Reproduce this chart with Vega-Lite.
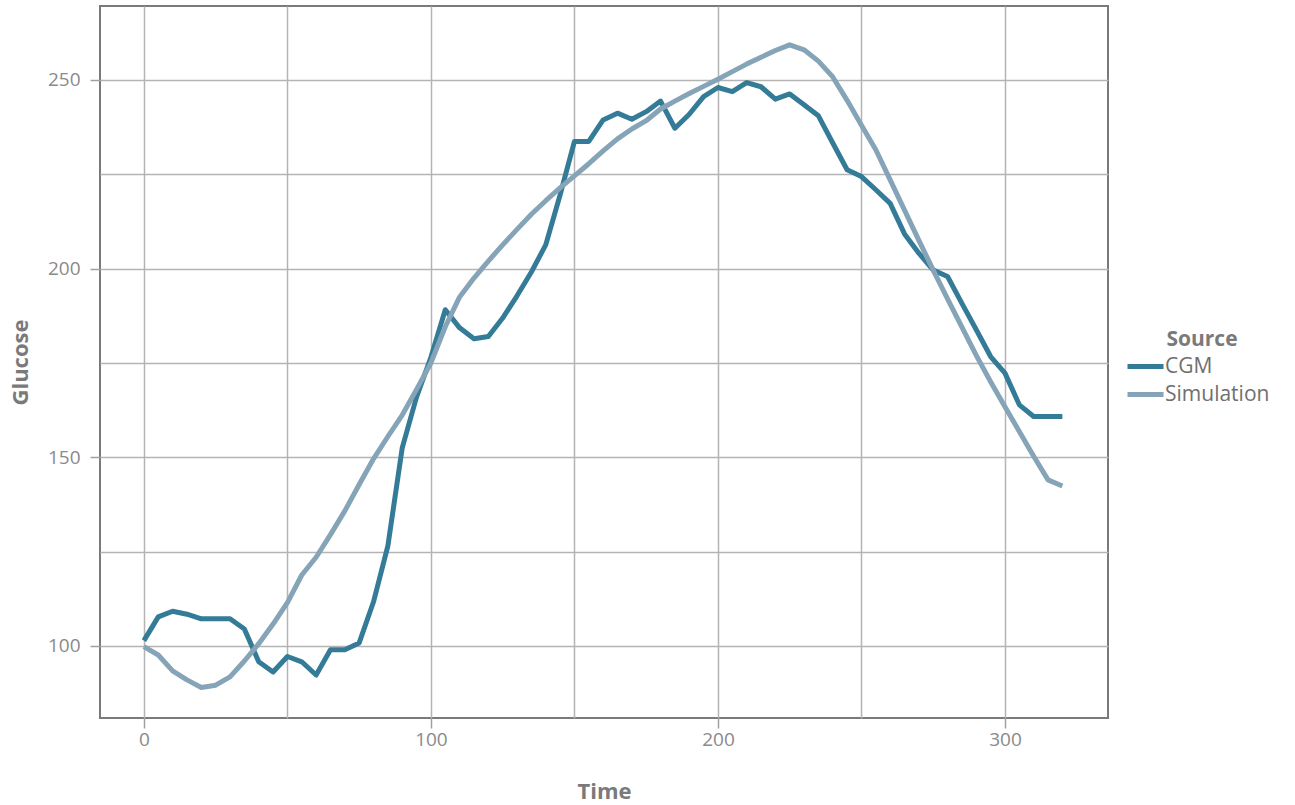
{
  "$schema": "https://vega.github.io/schema/vega-lite/v6.json",
  "width": 1008,
  "height": 712,
  "autosize": {"type": "none"},
  "padding": {"left": 100, "top": 6, "right": 187, "bottom": 87},
  "background": "white",
  "config": {
    "font": "Open Sans",
    "view": {"stroke": "#7a7a7a", "strokeWidth": 2},
    "axis": {
      "gridColor": "#b4b4b4",
      "gridWidth": 1.5,
      "domain": false,
      "tickColor": "#a0a0a0",
      "tickWidth": 1.5,
      "tickSize": 10,
      "labelColor": "#8a8a8a",
      "labelFontSize": 19,
      "labelFont": "Open Sans",
      "titleColor": "#7a7a7a",
      "titleFontSize": 22,
      "titleFontWeight": "bold",
      "titleFont": "Open Sans"
    },
    "legend": {
      "titleColor": "#7a7a7a",
      "titleFontSize": 21,
      "titleFontWeight": "bold",
      "labelColor": "#6f6f6f",
      "labelFontSize": 21,
      "labelFont": "Open Sans",
      "titleFont": "Open Sans"
    }
  },
  "data": {
    "values": [
      {"Time": 0, "Glucose": 101.4, "Source": "CGM"},
      {"Time": 5, "Glucose": 107.7, "Source": "CGM"},
      {"Time": 10, "Glucose": 109.2, "Source": "CGM"},
      {"Time": 15, "Glucose": 108.4, "Source": "CGM"},
      {"Time": 20, "Glucose": 107.2, "Source": "CGM"},
      {"Time": 25, "Glucose": 107.2, "Source": "CGM"},
      {"Time": 30, "Glucose": 107.2, "Source": "CGM"},
      {"Time": 35, "Glucose": 104.5, "Source": "CGM"},
      {"Time": 40, "Glucose": 95.8, "Source": "CGM"},
      {"Time": 45, "Glucose": 93.1, "Source": "CGM"},
      {"Time": 50, "Glucose": 97.2, "Source": "CGM"},
      {"Time": 55, "Glucose": 95.8, "Source": "CGM"},
      {"Time": 60, "Glucose": 92.3, "Source": "CGM"},
      {"Time": 65, "Glucose": 99.0, "Source": "CGM"},
      {"Time": 70, "Glucose": 99.0, "Source": "CGM"},
      {"Time": 75, "Glucose": 100.8, "Source": "CGM"},
      {"Time": 80, "Glucose": 111.7, "Source": "CGM"},
      {"Time": 85, "Glucose": 126.5, "Source": "CGM"},
      {"Time": 90, "Glucose": 152.5, "Source": "CGM"},
      {"Time": 95, "Glucose": 166.0, "Source": "CGM"},
      {"Time": 100, "Glucose": 176.5, "Source": "CGM"},
      {"Time": 105, "Glucose": 189.1, "Source": "CGM"},
      {"Time": 110, "Glucose": 184.3, "Source": "CGM"},
      {"Time": 115, "Glucose": 181.4, "Source": "CGM"},
      {"Time": 120, "Glucose": 182.0, "Source": "CGM"},
      {"Time": 125, "Glucose": 186.9, "Source": "CGM"},
      {"Time": 130, "Glucose": 192.8, "Source": "CGM"},
      {"Time": 135, "Glucose": 199.1, "Source": "CGM"},
      {"Time": 140, "Glucose": 206.3, "Source": "CGM"},
      {"Time": 145, "Glucose": 219.5, "Source": "CGM"},
      {"Time": 150, "Glucose": 233.7, "Source": "CGM"},
      {"Time": 155, "Glucose": 233.7, "Source": "CGM"},
      {"Time": 160, "Glucose": 239.4, "Source": "CGM"},
      {"Time": 165, "Glucose": 241.2, "Source": "CGM"},
      {"Time": 170, "Glucose": 239.6, "Source": "CGM"},
      {"Time": 175, "Glucose": 241.6, "Source": "CGM"},
      {"Time": 180, "Glucose": 244.4, "Source": "CGM"},
      {"Time": 185, "Glucose": 237.2, "Source": "CGM"},
      {"Time": 190, "Glucose": 240.9, "Source": "CGM"},
      {"Time": 195, "Glucose": 245.6, "Source": "CGM"},
      {"Time": 200, "Glucose": 248.0, "Source": "CGM"},
      {"Time": 205, "Glucose": 246.9, "Source": "CGM"},
      {"Time": 210, "Glucose": 249.3, "Source": "CGM"},
      {"Time": 215, "Glucose": 248.2, "Source": "CGM"},
      {"Time": 220, "Glucose": 244.9, "Source": "CGM"},
      {"Time": 225, "Glucose": 246.3, "Source": "CGM"},
      {"Time": 230, "Glucose": 243.4, "Source": "CGM"},
      {"Time": 235, "Glucose": 240.5, "Source": "CGM"},
      {"Time": 240, "Glucose": 233.3, "Source": "CGM"},
      {"Time": 245, "Glucose": 226.2, "Source": "CGM"},
      {"Time": 250, "Glucose": 224.4, "Source": "CGM"},
      {"Time": 255, "Glucose": 220.9, "Source": "CGM"},
      {"Time": 260, "Glucose": 217.3, "Source": "CGM"},
      {"Time": 265, "Glucose": 209.2, "Source": "CGM"},
      {"Time": 270, "Glucose": 204.1, "Source": "CGM"},
      {"Time": 275, "Glucose": 199.6, "Source": "CGM"},
      {"Time": 280, "Glucose": 197.9, "Source": "CGM"},
      {"Time": 285, "Glucose": 190.8, "Source": "CGM"},
      {"Time": 290, "Glucose": 183.8, "Source": "CGM"},
      {"Time": 295, "Glucose": 176.7, "Source": "CGM"},
      {"Time": 300, "Glucose": 172.3, "Source": "CGM"},
      {"Time": 305, "Glucose": 163.9, "Source": "CGM"},
      {"Time": 310, "Glucose": 160.8, "Source": "CGM"},
      {"Time": 315, "Glucose": 160.8, "Source": "CGM"},
      {"Time": 320, "Glucose": 160.8, "Source": "CGM"},
      {"Time": 0, "Glucose": 99.8, "Source": "Simulation"},
      {"Time": 5, "Glucose": 97.6, "Source": "Simulation"},
      {"Time": 10, "Glucose": 93.4, "Source": "Simulation"},
      {"Time": 15, "Glucose": 91.0, "Source": "Simulation"},
      {"Time": 20, "Glucose": 89.0, "Source": "Simulation"},
      {"Time": 25, "Glucose": 89.6, "Source": "Simulation"},
      {"Time": 30, "Glucose": 91.8, "Source": "Simulation"},
      {"Time": 35, "Glucose": 96.0, "Source": "Simulation"},
      {"Time": 40, "Glucose": 100.6, "Source": "Simulation"},
      {"Time": 45, "Glucose": 105.8, "Source": "Simulation"},
      {"Time": 50, "Glucose": 111.5, "Source": "Simulation"},
      {"Time": 55, "Glucose": 118.8, "Source": "Simulation"},
      {"Time": 60, "Glucose": 123.5, "Source": "Simulation"},
      {"Time": 65, "Glucose": 129.5, "Source": "Simulation"},
      {"Time": 70, "Glucose": 135.8, "Source": "Simulation"},
      {"Time": 75, "Glucose": 142.8, "Source": "Simulation"},
      {"Time": 80, "Glucose": 149.6, "Source": "Simulation"},
      {"Time": 85, "Glucose": 155.5, "Source": "Simulation"},
      {"Time": 90, "Glucose": 161.2, "Source": "Simulation"},
      {"Time": 95, "Glucose": 168.0, "Source": "Simulation"},
      {"Time": 100, "Glucose": 175.0, "Source": "Simulation"},
      {"Time": 105, "Glucose": 184.6, "Source": "Simulation"},
      {"Time": 110, "Glucose": 192.5, "Source": "Simulation"},
      {"Time": 115, "Glucose": 197.5, "Source": "Simulation"},
      {"Time": 120, "Glucose": 202.0, "Source": "Simulation"},
      {"Time": 125, "Glucose": 206.3, "Source": "Simulation"},
      {"Time": 130, "Glucose": 210.4, "Source": "Simulation"},
      {"Time": 135, "Glucose": 214.4, "Source": "Simulation"},
      {"Time": 140, "Glucose": 218.0, "Source": "Simulation"},
      {"Time": 145, "Glucose": 221.4, "Source": "Simulation"},
      {"Time": 150, "Glucose": 224.6, "Source": "Simulation"},
      {"Time": 155, "Glucose": 227.8, "Source": "Simulation"},
      {"Time": 160, "Glucose": 231.2, "Source": "Simulation"},
      {"Time": 165, "Glucose": 234.4, "Source": "Simulation"},
      {"Time": 170, "Glucose": 237.0, "Source": "Simulation"},
      {"Time": 175, "Glucose": 239.2, "Source": "Simulation"},
      {"Time": 180, "Glucose": 242.3, "Source": "Simulation"},
      {"Time": 185, "Glucose": 244.4, "Source": "Simulation"},
      {"Time": 190, "Glucose": 246.4, "Source": "Simulation"},
      {"Time": 195, "Glucose": 248.3, "Source": "Simulation"},
      {"Time": 200, "Glucose": 250.2, "Source": "Simulation"},
      {"Time": 205, "Glucose": 252.2, "Source": "Simulation"},
      {"Time": 210, "Glucose": 254.2, "Source": "Simulation"},
      {"Time": 215, "Glucose": 256.0, "Source": "Simulation"},
      {"Time": 220, "Glucose": 257.8, "Source": "Simulation"},
      {"Time": 225, "Glucose": 259.3, "Source": "Simulation"},
      {"Time": 230, "Glucose": 258.0, "Source": "Simulation"},
      {"Time": 235, "Glucose": 255.0, "Source": "Simulation"},
      {"Time": 240, "Glucose": 250.8, "Source": "Simulation"},
      {"Time": 245, "Glucose": 244.6, "Source": "Simulation"},
      {"Time": 250, "Glucose": 238.0, "Source": "Simulation"},
      {"Time": 255, "Glucose": 231.5, "Source": "Simulation"},
      {"Time": 260, "Glucose": 223.5, "Source": "Simulation"},
      {"Time": 265, "Glucose": 215.5, "Source": "Simulation"},
      {"Time": 270, "Glucose": 207.5, "Source": "Simulation"},
      {"Time": 275, "Glucose": 199.6, "Source": "Simulation"},
      {"Time": 280, "Glucose": 192.0, "Source": "Simulation"},
      {"Time": 285, "Glucose": 184.5, "Source": "Simulation"},
      {"Time": 290, "Glucose": 177.0, "Source": "Simulation"},
      {"Time": 295, "Glucose": 170.0, "Source": "Simulation"},
      {"Time": 300, "Glucose": 163.4, "Source": "Simulation"},
      {"Time": 305, "Glucose": 156.8, "Source": "Simulation"},
      {"Time": 310, "Glucose": 150.3, "Source": "Simulation"},
      {"Time": 315, "Glucose": 144.0, "Source": "Simulation"},
      {"Time": 320, "Glucose": 142.4, "Source": "Simulation"}
    ]
  },
  "mark": {"type": "line", "strokeWidth": 5, "strokeJoin": "round", "strokeCap": "butt"},
  "encoding": {
    "x": {
      "field": "Time",
      "type": "quantitative",
      "scale": {"domain": [-15.3, 335.9], "nice": false, "zero": false},
      "axis": {
        "values": [0, 50, 100, 150, 200, 250, 300],
        "labelExpr": "datum.value % 100 === 0 ? datum.label : ''",
        "tickOpacity": {"condition": {"test": "datum.value % 100 === 0", "value": 1}, "value": 0},
        "labelPadding": 2,
        "titlePadding": 32,
        "title": "Time"
      }
    },
    "y": {
      "field": "Glucose",
      "type": "quantitative",
      "scale": {"domain": [80.9, 269.6], "nice": false, "zero": false},
      "axis": {
        "values": [100, 125, 150, 175, 200, 225, 250],
        "labelExpr": "datum.value % 50 === 0 ? datum.label : ''",
        "tickOpacity": {"condition": {"test": "datum.value % 50 === 0", "value": 1}, "value": 0},
        "labelPadding": 10,
        "titlePadding": 15,
        "title": "Glucose"
      }
    },
    "color": {
      "field": "Source",
      "type": "nominal",
      "scale": {"domain": ["CGM", "Simulation"], "range": ["#347b98", "#86a4b7"]},
      "legend": {
        "orient": "none",
        "legendX": 1035,
        "legendY": 323,
        "symbolType": "M-3,0H3",
        "symbolSize": 144,
        "symbolStrokeWidth": 5,
        "labelOffset": 9,
        "rowPadding": 6,
        "titleAnchor": "middle",
        "titlePadding": 6
      }
    }
  }
}
